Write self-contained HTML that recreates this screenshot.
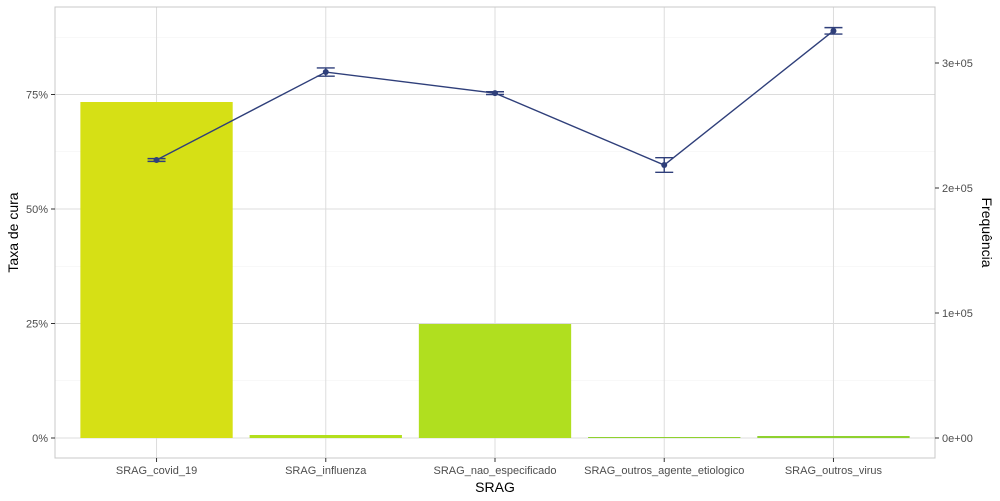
<!DOCTYPE html>
<html><head><meta charset="utf-8">
<style>
html,body{margin:0;padding:0;background:#fff;}
svg{display:block;font-family:"Liberation Sans",Arial,sans-serif;}
</style></head>
<body>
<svg id="chart" width="1000" height="501" viewBox="0 0 1000 501" xmlns="http://www.w3.org/2000/svg"></svg>
<script>
const categories = ["SRAG_covid_19","SRAG_influenza","SRAG_nao_especificado","SRAG_outros_agente_etiologico","SRAG_outros_virus"];
const frequencies = [268800, 2400, 91200, 800, 1600];
const cureRates = [0.607, 0.799, 0.753, 0.596, 0.889];
const cureLow = [0.604, 0.790, 0.750, 0.580, 0.882];
const cureHigh = [0.610, 0.808, 0.756, 0.612, 0.896];
const barColors = ["#d6e015","#b3df1d","#b0df1f","#8fd12f","#8fd12f"];
const leftTicks = [0, 0.25, 0.5, 0.75];
const leftTickLabels = ["0%","25%","50%","75%"];
const rightTicks = [0, 100000, 200000, 300000];
const rightTickLabels = ["0e+00","1e+05","2e+05","3e+05"];

const svg = document.getElementById('chart');
const NS = "http://www.w3.org/2000/svg";
const P = {l:55, r:935, t:7, b:458};
const base = 438;
const yL = v => base - v / 0.25 * 114.5;
const yR = v => base - v / 100000 * 125;
const step = (P.r - P.l) / (categories.length - 1 + 1.2);
const xC = i => P.l + step * (i + 0.6);
const bw = step * 0.9;

function mk(tag, attrs, parent) {
  const e = document.createElementNS(NS, tag);
  for (const k in attrs) e.setAttribute(k, attrs[k]);
  (parent || svg).appendChild(e);
  return e;
}

mk('rect', {x:P.l, y:P.t, width:P.r-P.l, height:P.b-P.t, fill:'#fff'});
const grid = mk('g', {});


for (let i = 0; i < leftTicks.length; i++) {
  const y = yL(leftTicks[i] + 0.125);
  mk('line', {x1:P.l, x2:P.r, y1:y, y2:y, stroke:'#f0f0f0', 'stroke-width':0.6}, grid);
}
for (let i = 0; i < leftTicks.length; i++) {
  const y = yL(leftTicks[i]);
  mk('line', {x1:P.l, x2:P.r, y1:y, y2:y, stroke:'#dcdcdc', 'stroke-width':1}, grid);
}
for (let i = 0; i < categories.length; i++) {
  mk('line', {x1:xC(i), x2:xC(i), y1:P.t, y2:P.b, stroke:'#dcdcdc', 'stroke-width':1}, grid);
}

for (let i = 0; i < categories.length; i++) {
  const y = yR(frequencies[i]);
  const r = mk('rect', {x:xC(i)-bw/2, y:y, width:bw, height:Math.max(base-y,0), fill:barColors[i]});
  
  
}

const pts = cureRates.map((v,i) => xC(i) + ',' + yL(v)).join(' ');
const line = mk('polyline', {points:pts, fill:'none', stroke:'#2f3f7a', 'stroke-width':1.4});


for (let i = 0; i < categories.length; i++) {
  const x = xC(i), y1 = yL(cureLow[i]), y2 = yL(cureHigh[i]);
  const g = mk('g', {stroke:'#2f3f7a', 'stroke-width':1.4});
  
  
  mk('line', {x1:x, x2:x, y1:y1, y2:y2}, g);
  mk('line', {x1:x-9, x2:x+9, y1:y1, y2:y1}, g);
  mk('line', {x1:x-9, x2:x+9, y1:y2, y2:y2}, g);
  const c = mk('circle', {cx:x, cy:yL(cureRates[i]), r:3, fill:'#2f3f7a'});
  
  
}

mk('rect', {x:P.l, y:P.t, width:P.r-P.l, height:P.b-P.t, fill:'none', stroke:'#c8c8c8', 'stroke-width':1});

for (let i = 0; i < leftTicks.length; i++) {
  const y = yL(leftTicks[i]);
  mk('line', {x1:P.l-4, x2:P.l, y1:y, y2:y, stroke:'#333', 'stroke-width':1});
  const t = mk('text', {x:P.l-7, y:y+4, 'text-anchor':'end', 'font-size':11, fill:'#4d4d4d'});
  
  
  t.textContent = leftTickLabels[i];
}
for (let i = 0; i < rightTicks.length; i++) {
  const y = yR(rightTicks[i]);
  mk('line', {x1:P.r, x2:P.r+4, y1:y, y2:y, stroke:'#333', 'stroke-width':1});
  const t = mk('text', {x:P.r+7, y:y+4, 'text-anchor':'start', 'font-size':11, fill:'#4d4d4d'});
  
  
  t.textContent = rightTickLabels[i];
}
for (let i = 0; i < categories.length; i++) {
  const x = xC(i);
  mk('line', {x1:x, x2:x, y1:P.b, y2:P.b+4, stroke:'#333', 'stroke-width':1});
  const t = mk('text', {x:x, y:P.b+16, 'text-anchor':'middle', 'font-size':11, fill:'#4d4d4d'});
  
  
  t.textContent = categories[i];
}
const xt = mk('text', {x:(P.l+P.r)/2, y:492, 'text-anchor':'middle', 'font-size':14, fill:'#000'});


xt.textContent = 'SRAG';
const yt = mk('text', {x:0, y:0, 'text-anchor':'middle', 'font-size':14, fill:'#000', transform:'translate(18,' + ((P.t+P.b)/2) + ') rotate(-90)'});


yt.textContent = 'Taxa de cura';
const yt2 = mk('text', {x:0, y:0, 'text-anchor':'middle', 'font-size':14, fill:'#000', transform:'translate(982,' + ((P.t+P.b)/2) + ') rotate(90)'});


yt2.textContent = 'Frequência';
</script>
</body></html>
